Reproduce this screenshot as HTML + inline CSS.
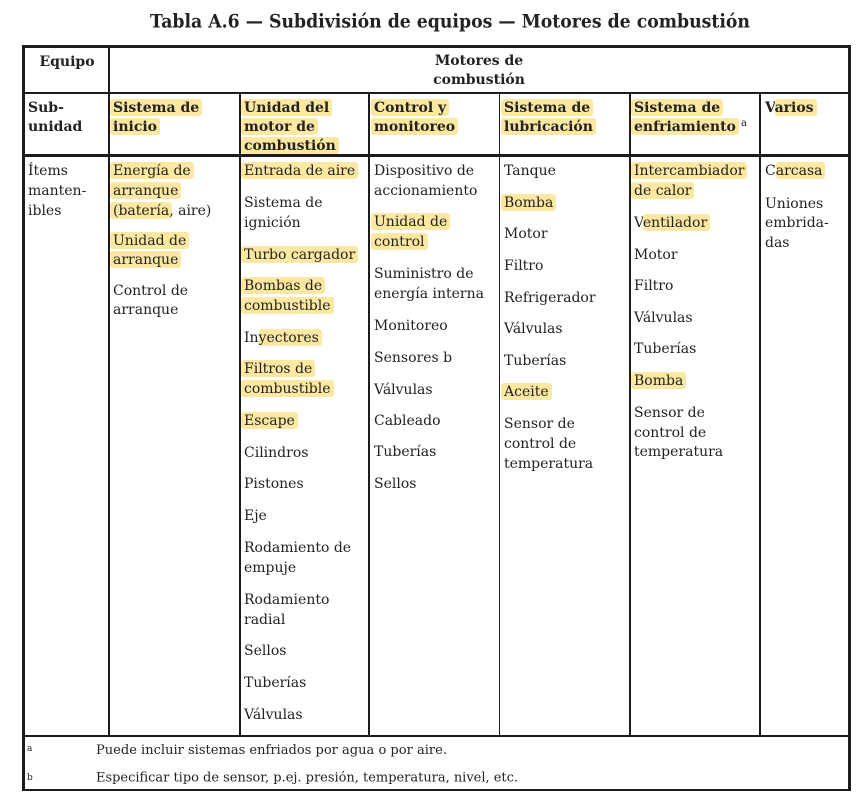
<!DOCTYPE html>
<html>
<head>
<meta charset="utf-8">
<style>
html,body{margin:0;padding:0}
body{width:863px;height:806px;background:#fff;position:relative;overflow:hidden;font-family:"DejaVu Serif","Liberation Serif",serif;color:#222}
.l{position:absolute;white-space:nowrap;font-size:14px;line-height:20px}
.b{font-weight:bold}
.h{background:#fce8a0;border-radius:3px;padding:1px 3px 0 3px;margin:0 -3px}
.hr{background:#fce8a0;border-radius:3px;padding:1px 3px 0 0;margin:0 -3px 0 0}
.r{position:absolute;background:#1c1c1c}
.c{text-align:center}
</style>
</head>
<body>
<svg width="863" height="40" style="position:absolute;left:0;top:0">
<text x="150" y="27.3" textLength="600" lengthAdjust="spacingAndGlyphs" font-family="DejaVu Serif, Liberation Serif, serif" font-weight="bold" font-size="19" fill="#222">Tabla A.6 — Subdivisión de equipos — Motores de combustión</text>
</svg>

<!-- rules -->
<div class="r" style="left:22px;top:45px;width:829px;height:2.7px"></div>
<div class="r" style="left:22px;top:788.5px;width:829px;height:2.6px"></div>
<div class="r" style="left:22px;top:45px;width:3px;height:746px"></div>
<div class="r" style="left:848px;top:45px;width:3px;height:746px"></div>
<div class="r" style="left:22px;top:91.8px;width:829px;height:2px"></div>
<div class="r" style="left:22px;top:154.3px;width:829px;height:2.5px"></div>
<div class="r" style="left:22px;top:735px;width:829px;height:2px"></div>
<div class="r" style="left:107.5px;top:45px;width:2px;height:692px"></div>
<div class="r" style="left:239px;top:92px;width:2px;height:645px"></div>
<div class="r" style="left:368.3px;top:92px;width:1.8px;height:645px"></div>
<div class="r" style="left:499px;top:92px;width:1.4px;height:645px"></div>
<div class="r" style="left:629.4px;top:92px;width:1.8px;height:645px"></div>
<div class="r" style="left:759.4px;top:92px;width:1.8px;height:645px"></div>

<!-- top row -->
<div class="l b c" style="left:25px;width:84px;top:51.9px">Equipo</div>
<div class="l b c" style="left:108px;width:742px;top:51.2px">Motores de</div>
<div class="l b c" style="left:108px;width:742px;top:70.2px">combustión</div>

<!-- header row -->
<div class="l b" style="left:28px;top:98.2px">Sub-</div>
<div class="l b" style="left:28px;top:117.2px">unidad</div>

<div class="l b" style="left:113px;top:98.2px"><span class="h">Sistema de</span></div>
<div class="l b" style="left:113px;top:117.2px"><span class="h">inicio</span></div>

<div class="l b" style="left:244px;top:98.2px"><span class="h">Unidad del</span></div>
<div class="l b" style="left:244px;top:117.2px"><span class="h">motor de</span></div>
<div class="l b" style="left:244px;top:136.2px"><span class="h">combustión</span></div>

<div class="l b" style="left:374px;top:98.2px"><span class="h">Control y</span></div>
<div class="l b" style="left:374px;top:117.2px"><span class="h">monitoreo</span></div>

<div class="l b" style="left:504px;top:98.2px"><span class="h">Sistema de</span></div>
<div class="l b" style="left:504px;top:117.2px"><span class="h">lubricación</span></div>

<div class="l b" style="left:634px;top:98.2px"><span class="h">Sistema de</span></div>
<div class="l b" style="left:634px;top:117.2px"><span class="h">enfriamiento</span></div>
<div class="l" style="left:741px;top:117.5px;font-size:10px;line-height:12px">a</div>

<div class="l b" style="left:765px;top:98.2px">V<span class="hr">arios</span></div>

<!-- body col0 -->
<div class="l" style="left:28px;top:161.2px">Ítems</div>
<div class="l" style="left:28px;top:181.2px">manten-</div>
<div class="l" style="left:28px;top:201.2px">ibles</div>

<!-- col1 -->
<div class="l" style="left:113px;top:161.2px"><span class="h">Energía de</span></div>
<div class="l" style="left:113px;top:181.2px"><span class="h">arranque</span></div>
<div class="l" style="left:113px;top:201.2px"><span class="h">(batería</span>, aire)</div>
<div class="l" style="left:113px;top:231.2px"><span class="h">Unidad de</span></div>
<div class="l" style="left:113px;top:250.2px"><span class="h">arranque</span></div>
<div class="l" style="left:113px;top:281.2px">Control de</div>
<div class="l" style="left:113px;top:300.2px">arranque</div>

<!-- col2 -->
<div class="l" style="left:244px;top:161.2px"><span class="h">Entrada de aire</span></div>
<div class="l" style="left:244px;top:193.2px">Sistema de</div>
<div class="l" style="left:244px;top:212.7px">ignición</div>
<div class="l" style="left:244px;top:244.7px"><span class="h">Turbo cargador</span></div>
<div class="l" style="left:244px;top:276.2px"><span class="h">Bombas de</span></div>
<div class="l" style="left:244px;top:295.7px"><span class="h">combustible</span></div>
<div class="l" style="left:244px;top:327.7px">In<span class="hr">yectores</span></div>
<div class="l" style="left:244px;top:359.2px"><span class="h">Filtros de</span></div>
<div class="l" style="left:244px;top:379.2px"><span class="h">combustible</span></div>
<div class="l" style="left:244px;top:411.2px"><span class="h">Escape</span></div>
<div class="l" style="left:244px;top:442.7px">Cilindros</div>
<div class="l" style="left:244px;top:474.2px">Pistones</div>
<div class="l" style="left:244px;top:506.2px">Eje</div>
<div class="l" style="left:244px;top:538.2px">Rodamiento de</div>
<div class="l" style="left:244px;top:557.7px">empuje</div>
<div class="l" style="left:244px;top:589.7px">Rodamiento</div>
<div class="l" style="left:244px;top:609.7px">radial</div>
<div class="l" style="left:244px;top:641.2px">Sellos</div>
<div class="l" style="left:244px;top:673.2px">Tuberías</div>
<div class="l" style="left:244px;top:705.2px">Válvulas</div>

<!-- col3 -->
<div class="l" style="left:374px;top:161.2px">Dispositivo de</div>
<div class="l" style="left:374px;top:180.9px">accionamiento</div>
<div class="l" style="left:374px;top:212.2px"><span class="h">Unidad de</span></div>
<div class="l" style="left:374px;top:232.2px"><span class="h">control</span></div>
<div class="l" style="left:374px;top:264.2px">Suministro de</div>
<div class="l" style="left:374px;top:284.2px">energía interna</div>
<div class="l" style="left:374px;top:316.2px">Monitoreo</div>
<div class="l" style="left:374px;top:347.9px">Sensores b</div>
<div class="l" style="left:374px;top:379.5px">Válvulas</div>
<div class="l" style="left:374px;top:411.2px">Cableado</div>
<div class="l" style="left:374px;top:442.2px">Tuberías</div>
<div class="l" style="left:374px;top:474.2px">Sellos</div>

<!-- col4 -->
<div class="l" style="left:504px;top:161.2px">Tanque</div>
<div class="l" style="left:504px;top:192.8px"><span class="h">Bomba</span></div>
<div class="l" style="left:504px;top:224.4px">Motor</div>
<div class="l" style="left:504px;top:256px">Filtro</div>
<div class="l" style="left:504px;top:287.6px">Refrigerador</div>
<div class="l" style="left:504px;top:319.2px">Válvulas</div>
<div class="l" style="left:504px;top:350.8px">Tuberías</div>
<div class="l" style="left:504px;top:382.4px"><span class="h">Aceite</span></div>
<div class="l" style="left:504px;top:413.8px">Sensor de</div>
<div class="l" style="left:504px;top:433.6px">control de</div>
<div class="l" style="left:504px;top:453.5px">temperatura</div>

<!-- col5 -->
<div class="l" style="left:634px;top:161.2px"><span class="h">Intercambiador</span></div>
<div class="l" style="left:634px;top:180.9px"><span class="h">de calor</span></div>
<div class="l" style="left:634px;top:212.9px">V<span class="hr">entilador</span></div>
<div class="l" style="left:634px;top:245.2px">Motor</div>
<div class="l" style="left:634px;top:276.2px">Filtro</div>
<div class="l" style="left:634px;top:307.9px">Válvulas</div>
<div class="l" style="left:634px;top:339.2px">Tuberías</div>
<div class="l" style="left:634px;top:370.9px"><span class="h">Bomba</span></div>
<div class="l" style="left:634px;top:402.9px">Sensor de</div>
<div class="l" style="left:634px;top:422.5px">control de</div>
<div class="l" style="left:634px;top:441.9px">temperatura</div>

<!-- col6 -->
<div class="l" style="left:765px;top:161.2px">C<span class="hr">arcasa</span></div>
<div class="l" style="left:765px;top:193.5px">Uniones</div>
<div class="l" style="left:765px;top:212.9px">embrida-</div>
<div class="l" style="left:765px;top:232.5px">das</div>

<!-- footnotes -->
<svg width="863" height="70" style="position:absolute;left:0;top:737px">
<g font-family="DejaVu Serif, Liberation Serif, serif" fill="#222">
<text x="27" y="14" font-size="9">a</text>
<text x="96" y="17" font-size="13" textLength="351" lengthAdjust="spacingAndGlyphs">Puede incluir sistemas enfriados por agua o por aire.</text>
<text x="27" y="43" font-size="9">b</text>
<text x="96" y="44.5" font-size="13" textLength="422" lengthAdjust="spacingAndGlyphs">Especificar tipo de sensor, p.ej. presión, temperatura, nivel, etc.</text>
</g>
</svg>
</body>
</html>
